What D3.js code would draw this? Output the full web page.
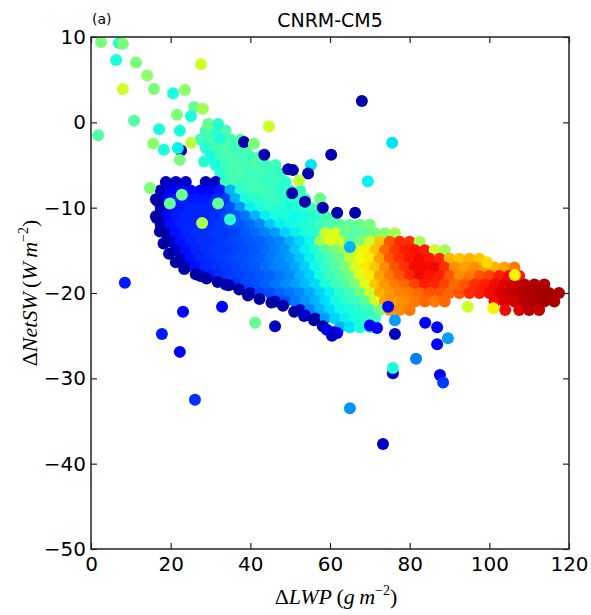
<!DOCTYPE html>
<html><head><meta charset="utf-8">
<script src="https://cdn.jsdelivr.net/npm/d3@7"></script>
<style>body{margin:0;background:#fff}</style>
</head><body>
<svg id="chart" width="591" height="615"></svg>
<script>
const xTicks=[0,20,40,60,80,100,120];
const yTicks=[-50,-40,-30,-20,-10,0,10];
const titleText="CNRM-CM5";
const panelLabel="(a)";

// dense cloud, row by row: y, x positions, colour values (0..1 on jet)
const blobRows=[
{y:-1,x:[28.8,31.3,33.8],c:[0.43,0.4,0.44]},
{y:-2,x:[27.5,30,32.5,35,37.5],c:[0.42,0.43,0.38,0.43,0.45]},
{y:-3,x:[28.8,31.3,33.8,36.3,38.8],c:[0.4,0.43,0.44,0.42,0.44]},
{y:-4,x:[30,32.5,35,37.5,40,42.5],c:[0.37,0.43,0.44,0.43,0.42,0.44]},
{y:-5,x:[31.3,33.8,36.3,38.8,41.3,43.8,46.3],c:[0.38,0.42,0.44,0.43,0.44,0.42,0.42]},
{y:-6,x:[32.5,35,37.5,40,42.5,45,47.5],c:[0.4,0.43,0.44,0.42,0.43,0.42,0.41]},
{y:-7,x:[18.8,21.3,23.8,28.8,31.3,33.8,36.3,38.8,41.3,43.8,46.3,48.8],c:[0.05,0.06,0.06,0.05,0.06,0.42,0.43,0.42,0.43,0.41,0.42,0.4]},
{y:-8,x:[17.5,20,22.5,25,27.5,30,32.5,35,37.5,40,42.5,45,47.5,50,52.5],c:[0.05,0.1,0.13,0.13,0.12,0.13,0.15,0.3,0.4,0.42,0.43,0.42,0.4,0.41,0.42]},
{y:-9,x:[16.3,18.8,21.3,23.8,26.3,28.8,31.3,33.8,36.3,38.8,41.3,43.8,46.3,48.8,51.3,53.8],c:[0.05,0.12,0.15,0.15,0.15,0.15,0.16,0.18,0.3,0.38,0.4,0.41,0.42,0.4,0.4,0.42]},
{y:-10,x:[17.5,20,22.5,25,27.5,30,32.5,35,37.5,40,42.5,45,47.5,50,52.5,55,57.5],c:[0.05,0.13,0.15,0.16,0.16,0.16,0.17,0.2,0.27,0.36,0.38,0.4,0.4,0.38,0.4,0.42,0.43]},
{y:-11,x:[16.3,18.8,21.3,23.8,26.3,28.8,31.3,33.8,36.3,38.8,41.3,43.8,46.3,48.8,51.3,53.8,56.3,58.8,61.3],c:[0.05,0.13,0.15,0.16,0.16,0.16,0.17,0.19,0.21,0.24,0.3,0.36,0.38,0.38,0.37,0.38,0.4,0.43,0.45]},
{y:-12,x:[17.5,20,22.5,25,27.5,30,32.5,35,37.5,40,42.5,45,47.5,50,52.5,55,57.5,60,62.5,65,67.5,70],c:[0.05,0.14,0.16,0.16,0.17,0.17,0.18,0.19,0.21,0.23,0.26,0.32,0.36,0.37,0.38,0.4,0.42,0.44,0.46,0.47,0.48,0.5]},
{y:-13,x:[18.8,21.3,23.8,26.3,28.8,31.3,33.8,36.3,38.8,41.3,43.8,46.3,48.8,51.3,53.8,56.3,58.8,61.3,63.8,66.3,68.8,71.3,73.8,76.3],c:[0.05,0.14,0.16,0.17,0.17,0.18,0.18,0.19,0.21,0.23,0.25,0.28,0.33,0.36,0.38,0.4,0.6,0.62,0.48,0.45,0.47,0.5,0.52,0.55]},
{y:-14,x:[20,22.5,25,27.5,30,32.5,35,37.5,40,42.5,45,47.5,50,52.5,55,57.5,60,62.5,65,67.5,70,72.5,75,77.5,80,82.5],c:[0.06,0.14,0.16,0.17,0.17,0.18,0.19,0.2,0.21,0.22,0.24,0.26,0.3,0.34,0.37,0.55,0.63,0.6,0.45,0.5,0.6,0.7,0.82,0.86,0.86,0.55]},
{y:-15,x:[21.3,23.8,26.3,28.8,31.3,33.8,36.3,38.8,41.3,43.8,46.3,48.8,51.3,53.8,56.3,58.8,61.3,63.8,66.3,68.8,71.3,73.8,76.3,78.8,81.3,83.8,86.3,88.8],c:[0.06,0.14,0.16,0.17,0.18,0.18,0.19,0.2,0.21,0.23,0.25,0.27,0.32,0.36,0.4,0.45,0.5,0.55,0.62,0.65,0.7,0.8,0.85,0.88,0.89,0.88,0.6,0.55]},
{y:-16,x:[22.5,25,27.5,30,32.5,35,37.5,40,42.5,45,47.5,50,52.5,55,57.5,60,62.5,65,67.5,70,72.5,75,77.5,80,82.5,85,87.5,90,92.5,95,97.5],c:[0.06,0.14,0.16,0.17,0.18,0.19,0.2,0.21,0.22,0.24,0.26,0.28,0.32,0.36,0.4,0.44,0.48,0.58,0.64,0.66,0.74,0.82,0.86,0.89,0.9,0.89,0.87,0.72,0.7,0.72,0.7]},
{y:-17,x:[23.8,26.3,28.8,31.3,33.8,36.3,38.8,41.3,43.8,46.3,48.8,51.3,53.8,56.3,58.8,61.3,63.8,66.3,68.8,71.3,73.8,76.3,78.8,81.3,83.8,86.3,88.8,91.3,93.8,96.3,98.8,101.3,103.8,106.3],c:[0.06,0.14,0.16,0.17,0.18,0.19,0.2,0.21,0.23,0.25,0.26,0.29,0.33,0.37,0.41,0.45,0.5,0.62,0.66,0.7,0.76,0.82,0.86,0.9,0.9,0.9,0.86,0.76,0.74,0.76,0.74,0.72,0.74,0.78]},
{y:-18,x:[27.5,30,32.5,35,37.5,40,42.5,45,47.5,50,52.5,55,57.5,60,62.5,65,67.5,70,72.5,75,77.5,80,82.5,85,87.5,90,92.5,95,97.5,100,102.5,105,107.5],c:[0.06,0.15,0.17,0.18,0.19,0.2,0.21,0.22,0.24,0.26,0.3,0.33,0.38,0.42,0.45,0.5,0.62,0.66,0.74,0.78,0.82,0.87,0.9,0.89,0.88,0.82,0.76,0.78,0.82,0.84,0.88,0.9,0.88]},
{y:-19,x:[33.8,36.3,38.8,41.3,43.8,46.3,48.8,51.3,53.8,56.3,58.8,61.3,63.8,66.3,68.8,71.3,73.8,76.3,78.8,81.3,83.8,86.3,88.8,91.3,93.8,96.3,98.8,101.3,103.8,106.3,108.8,111.3,113.8],c:[0.06,0.17,0.19,0.2,0.22,0.24,0.26,0.28,0.31,0.34,0.38,0.42,0.45,0.5,0.62,0.7,0.75,0.78,0.8,0.84,0.88,0.87,0.84,0.8,0.82,0.86,0.88,0.9,0.92,0.93,0.95,0.96,0.96]},
{y:-20,x:[40,42.5,45,47.5,50,52.5,55,57.5,60,62.5,65,67.5,70,72.5,75,77.5,80,82.5,85,87.5,90,92.5,95,97.5,100,102.5,105,107.5,110,112.5,115,117.5],c:[0.06,0.19,0.2,0.22,0.24,0.26,0.29,0.33,0.36,0.4,0.43,0.48,0.6,0.72,0.75,0.77,0.78,0.8,0.82,0.82,0.8,0.82,0.86,0.88,0.9,0.92,0.94,0.95,0.96,0.97,0.97,0.96]},
{y:-21,x:[46.3,48.8,51.3,53.8,56.3,58.8,61.3,63.8,66.3,68.8,71.3,73.8,76.3,78.8,81.3,83.8,86.3,88.8,101.3,103.8,106.3,108.8,111.3,113.8,116.3],c:[0.06,0.2,0.24,0.27,0.3,0.34,0.37,0.4,0.42,0.46,0.6,0.74,0.75,0.76,0.78,0.8,0.78,0.8,0.9,0.92,0.93,0.95,0.96,0.97,0.96]},
{y:-22,x:[52.5,55,57.5,60,62.5,65,67.5,70,72.5,75,77.5,80,104,107.5,110,112.5],c:[0.06,0.25,0.3,0.34,0.37,0.38,0.4,0.42,0.5,0.75,0.76,0.78,0.9,0.92,0.95,0.94]},
{y:-23,x:[56.3,58.8,61.3,63.8,66.3,68.8,71.3],c:[0.06,0.28,0.33,0.36,0.38,0.4,0.42]},
{y:-24,x:[62.5,65,67.5,70],c:[0.3,0.35,0.38,0.4]}
];

// dark outline dots along the lower-left border of the cloud
const edgeX=[16.6,16.5,17.3,18.2,19.6,21.3,23.4,26.3,29,31.8,34.6,37.2,39.4,42.3,45.3,48.2,51,53.5,56,58.2,60.8];
const edgeY=[-9.2,-11.2,-12.8,-14.2,-15.4,-16.4,-17.2,-17.8,-18.3,-18.7,-19.1,-19.6,-20.3,-20.7,-21.1,-21.5,-22.2,-22.7,-23.2,-23.9,-24.6];
const edgeC=0.03;

// isolated points [x, y, colour]
const scatterPoints=[
[2.5,9.4,0.5],[7.0,9.3,0.4],[8.0,9.2,0.5],[6.3,7.3,0.38],[11.3,7.0,0.5],[27.6,6.8,0.6],
[14.1,5.5,0.52],[8.0,3.9,0.6],[15.8,3.9,0.5],[20.6,3.4,0.38],[23.6,3.8,0.52],[25.9,1.8,0.48],
[28.1,1.6,0.55],[10.8,0.2,0.45],[21.6,0.9,0.5],[25.1,0.7,0.38],[29.4,-0.2,0.48],[31.9,-0.2,0.4],
[1.8,-1.5,0.45],[17.1,-0.8,0.38],[22.3,-1.0,0.38],[44.7,-0.5,0.6],[15.6,-2.5,0.52],[18.3,-3.2,0.38],
[22.6,-3.3,0.04],[21.8,-3.0,0.36],[25.1,-2.4,0.58],[22.3,-4.4,0.5],[38.4,-2.3,0.04],[40.9,-2.5,0.5],
[43.5,-3.8,0.04],[49.5,-5.5,0.04],[28.4,-4.6,0.4],[68.0,2.5,0.04],[75.6,-2.4,0.35],[60.3,-3.8,0.04],
[55.2,-5.0,0.35],[50.7,-5.6,0.04],[54.5,-6.0,0.04],[52.2,-6.8,0.58],[69.5,-6.9,0.36],[50.5,-8.3,0.04],
[53.7,-9.3,0.04],[57.5,-8.9,0.48],[58.2,-10.0,0.04],[61.8,-10.6,0.04],[66.3,-10.6,0.04],
[14.8,-7.7,0.5],[22.8,-8.5,0.48],[19.8,-9.5,0.47],[31.9,-9.5,0.47],[27.9,-11.8,0.56],[34.9,-11.4,0.4],
[8.5,-18.8,0.15],[23.1,-22.2,0.12],[32.9,-21.6,0.12],[41.2,-23.5,0.47],[46.2,-23.9,0.06],[17.8,-24.8,0.15],
[22.3,-26.9,0.12],[26.1,-32.5,0.17],[53.7,-22.6,0.06],[59.2,-24.3,0.1],[61.8,-24.7,0.1],[60.5,-25.0,0.06],
[70.0,-23.8,0.12],[71.8,-24.1,0.12],[74.6,-21.6,0.12],[76.3,-23.2,0.28],[76.3,-24.8,0.06],[83.9,-23.5,0.12],
[86.9,-24.0,0.12],[89.6,-25.3,0.28],[86.9,-26.0,0.12],[81.6,-27.7,0.25],[75.8,-29.4,0.06],[75.8,-28.8,0.38],
[87.6,-29.6,0.1],[88.4,-30.5,0.18],[65.0,-33.5,0.27],[73.3,-37.7,0.06],[94.6,-21.6,0.6],[65.0,-14.6,0.3],
[99.4,-16.4,0.68],[106.4,-17.9,0.65],[101.0,-21.8,0.65]
];

const W=591,H=615;
const L=91,R=569,T=37,B=549;
const svg=d3.select("#chart");
svg.append("rect").attr("width",W).attr("height",H).attr("fill","#fff");

const x=d3.scaleLinear().domain([0,120]).range([L,R]);
const y=d3.scaleLinear().domain([-50,10]).range([B,T]);

// matplotlib "jet"
const jr=d3.scaleLinear().domain([0,0.35,0.66,0.89,1]).range([0,0,1,1,0.5]).clamp(true);
const jg=d3.scaleLinear().domain([0,0.125,0.375,0.64,0.91,1]).range([0,0,1,1,0,0]).clamp(true);
const jb=d3.scaleLinear().domain([0,0.11,0.34,0.65,1]).range([0.5,1,1,0,0]).clamp(true);
const jet=v=>d3.rgb(jr(v)*255,jg(v)*255,jb(v)*255).toString();

const pts=[];
blobRows.forEach(r=>r.x.forEach((xv,i)=>pts.push([xv,r.y,r.c[i]])));
edgeX.forEach((xv,i)=>pts.push([xv,edgeY[i],edgeC]));
scatterPoints.forEach(p=>pts.push(p));

svg.append("clipPath").attr("id","clip").append("rect")
  .attr("x",L).attr("y",T).attr("width",R-L).attr("height",B-T);

svg.append("g").attr("clip-path","url(#clip)")
  .selectAll("circle").data(pts).join("circle")
  .attr("cx",d=>x(d[0])).attr("cy",d=>y(d[1])).attr("r",6)
  .attr("fill",d=>jet(d[2]));

const axisColor="#222";
const fontTick="DejaVu Sans, sans-serif";
const gx=svg.append("g").attr("transform",`translate(0,${B})`)
  .call(d3.axisBottom(x).tickValues(xTicks).tickSizeInner(-6).tickSizeOuter(0).tickPadding(8));
const gxt=svg.append("g").attr("transform",`translate(0,${T})`)
  .call(d3.axisTop(x).tickValues(xTicks).tickSizeInner(-6).tickSizeOuter(0).tickFormat(""));
const gy=svg.append("g").attr("transform",`translate(${L},0)`)
  .call(d3.axisLeft(y).tickValues(yTicks).tickSizeInner(-6).tickSizeOuter(0).tickPadding(5));
const gyr=svg.append("g").attr("transform",`translate(${R},0)`)
  .call(d3.axisRight(y).tickValues(yTicks).tickSizeInner(-6).tickSizeOuter(0).tickFormat(""));
[gx,gxt,gy,gyr].forEach(g=>{
  g.select(".domain").remove();
  g.selectAll(".tick line").attr("stroke",axisColor).attr("stroke-width",1.2);
  g.selectAll(".tick text").attr("fill","#000").attr("font-family",fontTick).attr("font-size",20);
});
svg.append("rect").attr("x",L).attr("y",T).attr("width",R-L).attr("height",B-T)
  .attr("fill","none").attr("stroke",axisColor).attr("stroke-width",1.5);

svg.append("text").attr("x",(L+R)/2).attr("y",27).attr("text-anchor","middle")
  .attr("font-family",fontTick).attr("font-size",19).text(titleText);
svg.append("text").attr("x",92).attr("y",24)
  .attr("font-family",fontTick).attr("font-size",14).text(panelLabel);

// axis labels (math style)
function mathLabel(sel,parts){
  parts.forEach(p=>{
    const t=sel.append("tspan").text(p.t);
    if(p.i) t.attr("font-style","italic");
    if(p.sup){t.attr("font-size",14).attr("dy",-9);}
    if(p.down){t.attr("dy",9);}
  });
}
const xl=svg.append("text").attr("x",(L+R)/2+6).attr("y",604).attr("text-anchor","middle")
  .attr("font-family","Liberation Serif, serif").attr("font-size",22);
mathLabel(xl,[{t:"Δ"},{t:"LWP",i:1},{t:"\u2009("},{t:"g",i:1},{t:"\u2009"},{t:"m",i:1},{t:"−2",sup:1},{t:")",down:1}]);
const yl=svg.append("text").attr("transform",`translate(37,${(T+B)/2}) rotate(-90)`).attr("text-anchor","middle")
  .attr("font-family","Liberation Serif, serif").attr("font-size",22);
mathLabel(yl,[{t:"Δ"},{t:"NetSW",i:1},{t:"\u2009("},{t:"W",i:1},{t:"\u2009"},{t:"m",i:1},{t:"−2",sup:1},{t:")",down:1}]);
</script>
</body></html>
